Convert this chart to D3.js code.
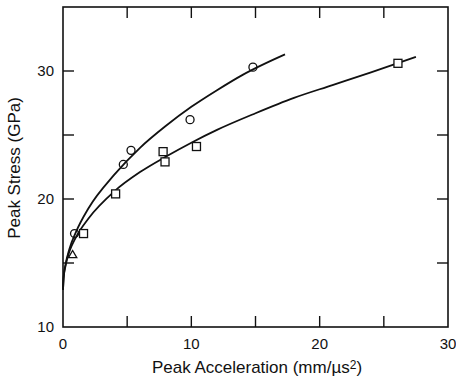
<!DOCTYPE html>
<html>
<head>
<meta charset="utf-8">
<script src="https://cdn.jsdelivr.net/npm/d3@7"></script>
<style>
  html, body { margin: 0; padding: 0; background: #fff; }
  svg { display: block; }
  text { font-family: "Liberation Sans", Arial, sans-serif; fill: #111; }
</style>
</head>
<body>
<svg id="chart" width="456" height="382"></svg>
<script>
// circles, squares, triangle: [acceleration, stress]
const circlePoints = [[0.9, 17.3], [4.7, 22.7], [5.3, 23.8], [9.9, 26.2], [14.8, 30.3]]
const squarePoints = [[1.6, 17.3], [4.1, 20.4], [7.8, 23.7], [7.95, 22.9], [10.4, 24.1], [26.1, 30.6]]
const trianglePoints = [[0.75, 15.6]]

// fitted curves
const circleCurve = [[0, 12.9], [0.05, 13.9], [0.2, 14.9], [0.5, 16.1], [1, 17.4], [2, 19.3], [4, 21.9],
  [6, 24.0], [8, 25.7], [10, 27.2], [12, 28.5], [14, 29.7], [17.3, 31.3]]
const squareCurve = [[0, 12.9], [0.05, 13.8], [0.2, 14.8], [0.5, 15.9], [1, 17.0], [2, 18.5], [4, 20.6],
  [6, 22.1], [8, 23.3], [10, 24.4], [12, 25.4], [15, 26.7], [18, 27.9], [21, 28.9], [24, 29.9], [27.5, 31.1]]

const xTicks = [0, 5, 10, 15, 20, 25, 30]
const xLabels = [0, 10, 20, 30]
const yTicks = [10, 15, 20, 25, 30, 35]
const yLabels = [10, 20, 30]

const svg = d3.select('#chart')
const x = d3.scaleLinear().domain([0, 30]).range([63, 448])
const y = d3.scaleLinear().domain([10, 35]).range([327, 7])
const tick = 11

// frame
svg.append('rect')
    .attr('x', x(0)).attr('y', y(35))
    .attr('width', x(30) - x(0)).attr('height', y(10) - y(35))
    .attr('fill', 'none').attr('stroke', '#111').attr('stroke-width', 1.6)

// inward ticks on all four sides
const ticks = svg.append('g').attr('stroke', '#111').attr('stroke-width', 1.4)
ticks.selectAll('.xb').data(xTicks.slice(1, -1)).join('line')
    .attr('x1', d => x(d)).attr('x2', d => x(d))
    .attr('y1', y(10)).attr('y2', y(10) - tick)
ticks.selectAll('.xt').data(xTicks.slice(1, -1)).join('line').classed('xt', true)
    .attr('x1', d => x(d)).attr('x2', d => x(d))
    .attr('y1', y(35)).attr('y2', y(35) + tick)
ticks.selectAll('.yl').data(yTicks.slice(1, -1)).join('line').classed('yl', true)
    .attr('x1', x(0)).attr('x2', x(0) + tick)
    .attr('y1', d => y(d)).attr('y2', d => y(d))
ticks.selectAll('.yr').data(yTicks.slice(1, -1)).join('line').classed('yr', true)
    .attr('x1', x(30)).attr('x2', x(30) - tick)
    .attr('y1', d => y(d)).attr('y2', d => y(d))

// tick labels
svg.append('g').selectAll('text').data(xLabels).join('text')
    .attr('x', d => x(d)).attr('y', 349)
    .attr('text-anchor', 'middle').attr('font-size', 15)
    .text(d => d)
svg.append('g').selectAll('text').data(yLabels).join('text')
    .attr('x', 54).attr('y', d => y(d) + 5)
    .attr('text-anchor', 'end').attr('font-size', 15)
    .text(d => d)

// axis titles
const xt = svg.append('text')
    .attr('x', 257).attr('y', 373)
    .attr('text-anchor', 'middle').attr('font-size', 17)
xt.append('tspan').text('Peak Acceleration (mm/\u00b5s')
xt.append('tspan').attr('font-size', 12).attr('dy', -4).text('2')
xt.append('tspan').attr('dy', 4).text(')')

svg.append('text')
    .attr('transform', 'translate(20,168) rotate(-90)')
    .attr('text-anchor', 'middle').attr('font-size', 17)
    .text('Peak Stress (GPa)')

// curves
const line = d3.line().x(d => x(d[0])).y(d => y(d[1])).curve(d3.curveMonotoneX)
svg.append('g').selectAll('path').data([circleCurve, squareCurve]).join('path')
    .attr('d', line)
    .attr('fill', 'none').attr('stroke', '#111').attr('stroke-width', 1.8)

// markers
const marks = svg.append('g').attr('fill', 'none').attr('stroke', '#111').attr('stroke-width', 1.3)
marks.selectAll('circle').data(circlePoints).join('circle')
    .attr('cx', d => x(d[0])).attr('cy', d => y(d[1])).attr('r', 4)
marks.selectAll('rect').data(squarePoints).join('rect')
    .attr('x', d => x(d[0]) - 4).attr('y', d => y(d[1]) - 4)
    .attr('width', 8).attr('height', 8).attr('fill', '#fff')
marks.selectAll('path').data(trianglePoints).join('path')
    .attr('d', d3.symbol(d3.symbolTriangle, 30))
    .attr('transform', d => `translate(${x(d[0])},${y(d[1])})`)
</script>
</body>
</html>
